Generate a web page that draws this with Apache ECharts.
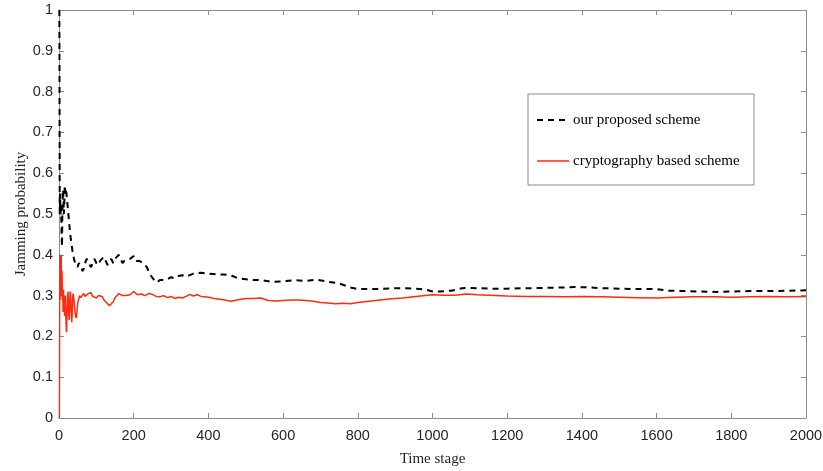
<!DOCTYPE html>
<html><head><meta charset="utf-8">
<script src="https://cdn.jsdelivr.net/npm/echarts@6/dist/echarts.min.js"></script>
<style>html,body{margin:0;padding:0;background:#fff}#c{width:823px;height:471px}</style>
</head><body><div id="c"></div>
<script>
const xTicks = [0,200,400,600,800,1000,1200,1400,1600,1800,2000];
const yTicks = [0,0.1,0.2,0.3,0.4,0.5,0.6,0.7,0.8,0.9,1];
const seriesNames = ["our proposed scheme","cryptography based scheme"];
const proposed = [[1,1.0],[2,0.5],[3,0.55],[4,0.5],[5,0.52],[6,0.5],[7,0.45],[8,0.42],[9,0.5],[10,0.55],[11,0.56],[12,0.54],[13,0.5],[14,0.52],[15,0.56],[16,0.57],[17,0.55],[18,0.56],[20,0.55],[22,0.53],[24,0.51],[26,0.49],[28,0.47],[30,0.45],[33,0.43],[36,0.41],[40,0.39],[43,0.38],[46,0.375],[50,0.37],[53,0.38],[56,0.375],[60,0.37],[63,0.36],[66,0.365],[70,0.38],[74,0.39],[78,0.385],[82,0.375],[86,0.37],[90,0.38],[95,0.39],[100,0.38],[105,0.375],[110,0.385],[115,0.39],[120,0.395],[125,0.385],[130,0.375],[135,0.385],[140,0.39],[145,0.38],[150,0.39],[155,0.395],[160,0.4],[165,0.39],[170,0.38],[175,0.385],[180,0.385],[190,0.39],[200,0.397],[205,0.385],[215,0.385],[225,0.38],[235,0.37],[245,0.35],[255,0.338],[262,0.332],[270,0.338],[280,0.338],[290,0.34],[300,0.345],[310,0.342],[320,0.348],[330,0.35],[340,0.346],[350,0.35],[360,0.354],[380,0.356],[400,0.354],[420,0.352],[440,0.352],[460,0.35],[480,0.342],[500,0.34],[520,0.338],[540,0.338],[570,0.334],[600,0.335],[630,0.338],[660,0.336],[690,0.339],[720,0.334],[750,0.33],[780,0.32],[800,0.316],[830,0.316],[860,0.316],[890,0.318],[920,0.318],[950,0.317],[980,0.315],[1000,0.31],[1020,0.31],[1050,0.312],[1080,0.318],[1100,0.319],[1150,0.317],[1200,0.317],[1250,0.318],[1300,0.319],[1350,0.32],[1380,0.321],[1420,0.32],[1460,0.318],[1500,0.317],[1550,0.316],[1600,0.316],[1630,0.312],[1680,0.311],[1720,0.31],[1760,0.309],[1800,0.31],[1850,0.311],[1900,0.311],[1950,0.312],[2000,0.313]];
const crypto = [[1,0],[2,0.4],[3,0.29],[4,0.4],[5,0.33],[6,0.4],[7,0.3],[8,0.36],[9,0.29],[10,0.31],[11,0.26],[12,0.315],[13,0.27],[14,0.3],[15,0.25],[16,0.28],[17,0.3],[18,0.26],[19,0.23],[20,0.21],[21,0.24],[22,0.27],[23,0.3],[24,0.31],[25,0.29],[26,0.26],[27,0.24],[28,0.26],[29,0.28],[30,0.31],[31,0.3],[32,0.27],[33,0.25],[34,0.235],[35,0.25],[36,0.28],[37,0.3],[38,0.305],[40,0.29],[42,0.27],[44,0.25],[46,0.245],[48,0.26],[50,0.28],[52,0.29],[55,0.3],[58,0.295],[62,0.3],[66,0.305],[70,0.298],[75,0.303],[80,0.3],[85,0.308],[90,0.298],[95,0.302],[100,0.294],[105,0.3],[110,0.296],[115,0.298],[120,0.29],[125,0.285],[130,0.283],[135,0.275],[140,0.272],[145,0.285],[150,0.295],[155,0.298],[160,0.305],[165,0.308],[170,0.3],[175,0.296],[180,0.3],[190,0.302],[200,0.31],[205,0.307],[210,0.302],[220,0.304],[230,0.3],[240,0.305],[250,0.303],[260,0.298],[270,0.297],[280,0.3],[290,0.295],[300,0.298],[310,0.293],[320,0.296],[330,0.294],[340,0.298],[350,0.303],[360,0.299],[370,0.302],[380,0.298],[390,0.297],[400,0.296],[420,0.292],[440,0.29],[460,0.286],[480,0.29],[500,0.293],[520,0.293],[540,0.294],[560,0.288],[580,0.287],[600,0.288],[620,0.289],[640,0.289],[660,0.288],[680,0.286],[700,0.283],[720,0.282],[740,0.28],[760,0.281],[780,0.28],[800,0.283],[830,0.286],[860,0.289],[890,0.292],[920,0.294],[950,0.297],[980,0.3],[1000,0.302],[1030,0.301],[1060,0.301],[1090,0.304],[1120,0.302],[1150,0.301],[1200,0.299],[1250,0.298],[1300,0.298],[1350,0.297],[1400,0.298],[1450,0.297],[1500,0.296],[1550,0.295],[1600,0.294],[1650,0.296],[1700,0.297],[1750,0.297],[1800,0.296],[1850,0.297],[1900,0.298],[1950,0.297],[2000,0.298]];

const chart = echarts.init(document.getElementById('c'), null, {renderer:'canvas'});
const lineC = '#8c8c8c';
const lblC = '#262626';
const sans = 'Liberation Sans';
const serif = 'Liberation Serif';
const colors = ['#000000', '#ff2a10'];
function xAx(pos, show){
  return {type:'value', position:pos, min:xTicks[0], max:xTicks[xTicks.length-1], interval:200,
    axisLine:{show:true, onZero:false, lineStyle:{color:lineC,width:1}},
    axisTick:{show:true, inside:true, length:5, lineStyle:{color:lineC}},
    axisLabel:{show:show, color:lblC, fontFamily:sans, fontSize:14.5, margin:10,
      formatter: v => String(v)},
    splitLine:{show:false},
    name: show ? 'Time stage' : '', nameLocation:'middle', nameGap:34, nameMoveOverlap:false,
    nameTextStyle:{fontFamily:serif, fontSize:15, color:lblC}};
}
function yAx(pos, show){
  return {type:'value', position:pos, min:yTicks[0], max:yTicks[yTicks.length-1], interval:0.1,
    axisLine:{show:true, onZero:false, lineStyle:{color:lineC,width:1}},
    axisTick:{show:true, inside:true, length:5, lineStyle:{color:lineC}},
    axisLabel:{show:show, color:lblC, fontFamily:sans, fontSize:14.5, margin:6,
      formatter: v => (Math.round(v*10)/10).toString()},
    splitLine:{show:false},
    name: show ? 'Jamming probability' : '', nameLocation:'middle', nameGap:30, nameMoveOverlap:false,
    nameTextStyle:{fontFamily:serif, fontSize:15, color:lblC}};
}
const LX = 528, LY = 94, LW = 226, LH = 91;
chart.setOption({
  animation:false,
  backgroundColor:'#fff',
  grid:{left:59, right:17, top:10, bottom:53, containLabel:false, outerBoundsMode:'none'},
  xAxis:[xAx('bottom',true), xAx('top',false)],
  yAxis:[yAx('left',true), yAx('right',false)],
  legend:{show:false},
  graphic:[
    {type:'rect', shape:{x:LX, y:LY, width:LW, height:LH}, style:{fill:'#fff', stroke:lineC, lineWidth:1}, z:100},
    {type:'line', shape:{x1:LX+9, y1:LY+26, x2:LX+41, y2:LY+26}, style:{stroke:colors[0], lineWidth:2, lineDash:[6,5]}, z:101},
    {type:'text', x:LX+45, y:LY+26, style:{text:seriesNames[0], fontFamily:serif, fontSize:15, fill:'#000', verticalAlign:'middle'}, z:101},
    {type:'line', shape:{x1:LX+9, y1:LY+67, x2:LX+41, y2:LY+67}, style:{stroke:colors[1], lineWidth:1.5}, z:101},
    {type:'text', x:LX+45, y:LY+67, style:{text:seriesNames[1], fontFamily:serif, fontSize:15, fill:'#000', verticalAlign:'middle'}, z:101}
  ],
  series:[
    {name:seriesNames[0], type:'line', data:proposed, showSymbol:false, symbol:'none',
     lineStyle:{color:colors[0], width:2, type:[6,5]}, itemStyle:{color:colors[0]}, z:3},
    {name:seriesNames[1], type:'line', data:crypto, showSymbol:false, symbol:'none',
     lineStyle:{color:colors[1], width:1.5}, itemStyle:{color:colors[1]}, z:2}
  ]
});
</script></body></html>
